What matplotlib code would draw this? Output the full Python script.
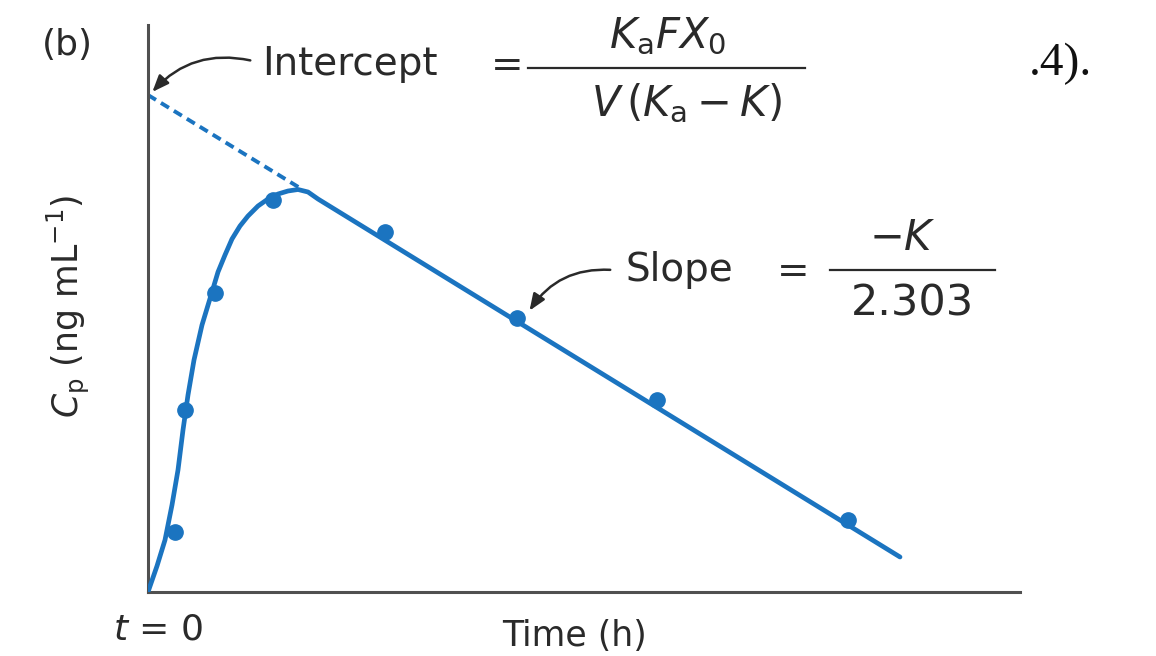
import numpy as np
import matplotlib
matplotlib.use("Agg")
from matplotlib import pyplot as plt
from matplotlib.lines import Line2D

# observed plasma levels (log scale units) vs time (h)
t_obs = [0.54, 0.74, 1.34, 2.5, 4.74, 7.38, 10.18, 14.0]
cp_obs = [1.2, 3.64, 5.98, 7.84, 7.2, 5.48, 3.84, 1.44]

# drawn absorption/elimination curve, read along its path
t_curve = [0.0, 0.18, 0.34, 0.48, 0.6, 0.7, 0.8, 0.92, 1.08, 1.28, 1.4, 1.54,
           1.68, 1.84, 2.0, 2.2, 2.4, 2.6, 2.8, 3.0, 3.2, 3.4, 15.04]
cp_curve = [0.0, 0.52, 1.04, 1.74, 2.44, 3.24, 3.94, 4.64, 5.34, 6.0, 6.4, 6.74,
            7.06, 7.32, 7.52, 7.72, 7.86, 7.96, 8.02, 8.05, 8.0, 7.86, 0.7]

# back-extrapolated terminal line (dashed) to the intercept
t_extrap = [0.0, 3.04]
cp_extrap = [9.94, 8.08]

blue = '#1b74c0'
ink = '#2a2a2a'
W, H = 1156, 656

def px(x, y):
    return x / W, 1 - y / H

fig = plt.figure(figsize=(W / 100, H / 100), dpi=100)
ax = fig.add_axes([148 / W, 64 / H, 872 / W, 567 / H])

ax.plot(t_curve, cp_curve, color=blue, lw=3.4, solid_capstyle='round',
        solid_joinstyle='round', zorder=3)
ax.plot(t_extrap, cp_extrap, color=blue, lw=2.8, ls=(0, (2.4, 1.5)), zorder=2)
ax.plot(t_obs, cp_obs, 'o', color=blue, ms=11, zorder=4)

ax.set_xlim(0, 17.44)
ax.set_ylim(0, 11.34)
ax.set_xticks([])
ax.set_yticks([])
for s in ['top', 'right']:
    ax.spines[s].set_visible(False)
for s in ['left', 'bottom']:
    ax.spines[s].set_color('#505050')
    ax.spines[s].set_linewidth(2.2)

fs = 28
ffs = 30
fig.text(*px(67, 45), '(b)', fontsize=26, color=ink, ha='center', va='center')

# intercept label with fraction
fig.text(*px(262, 64), 'Intercept', fontsize=fs, color=ink, ha='left', va='center')
fig.text(*px(507, 66), '=', fontsize=fs, color=ink, ha='center', va='center')
fig.text(*px(668, 36), r'$K_{\mathrm{a}}FX_0$', fontsize=ffs, color=ink, ha='center', va='center')
fig.add_artist(Line2D([528 / W, 805 / W], [1 - 68 / H, 1 - 68 / H], color=ink, lw=1.6))
fig.text(*px(686, 103), r'$V\,(K_{\mathrm{a}}-K)$', fontsize=ffs, color=ink, ha='center', va='center')

fig.text(*px(1060, 64), '.4).', fontsize=34, color='#111111', ha='center', va='center',
         family='Liberation Serif')

# slope label with fraction
fig.text(*px(625, 270), 'Slope', fontsize=fs, color=ink, ha='left', va='center')
fig.text(*px(793, 272), '=', fontsize=fs, color=ink, ha='center', va='center')
fig.text(*px(902, 238), r'$-K$', fontsize=ffs, color=ink, ha='center', va='center')
fig.add_artist(Line2D([830 / W, 995 / W], [1 - 270 / H, 1 - 270 / H], color=ink, lw=1.6))
fig.text(*px(912, 304), '2.303', fontsize=31, color=ink, ha='center', va='center')

# arrows
ax.annotate('', xy=(0.05, 9.96), xytext=(2.1, 10.62),
            arrowprops=dict(arrowstyle='-|>,head_length=1.0,head_width=0.4',
                            connectionstyle='arc3,rad=0.3', color=ink, lw=1.8))
ax.annotate('', xy=(7.6, 5.58), xytext=(9.3, 6.44),
            arrowprops=dict(arrowstyle='-|>,head_length=1.0,head_width=0.4',
                            connectionstyle='arc3,rad=0.3', color=ink, lw=1.8))

# axis labels
fig.text(*px(68, 306), r'$C_{\mathrm{p}}$ (ng mL$^{-1}$)', fontsize=25, color=ink,
         rotation=90, ha='center', va='center')
fig.text(*px(158, 630), r'$t$ = 0', fontsize=26, color=ink, ha='center', va='center')
fig.text(*px(575, 636), 'Time (h)', fontsize=25, color=ink, ha='center', va='center')

fig.savefig('out.png', dpi=100)
